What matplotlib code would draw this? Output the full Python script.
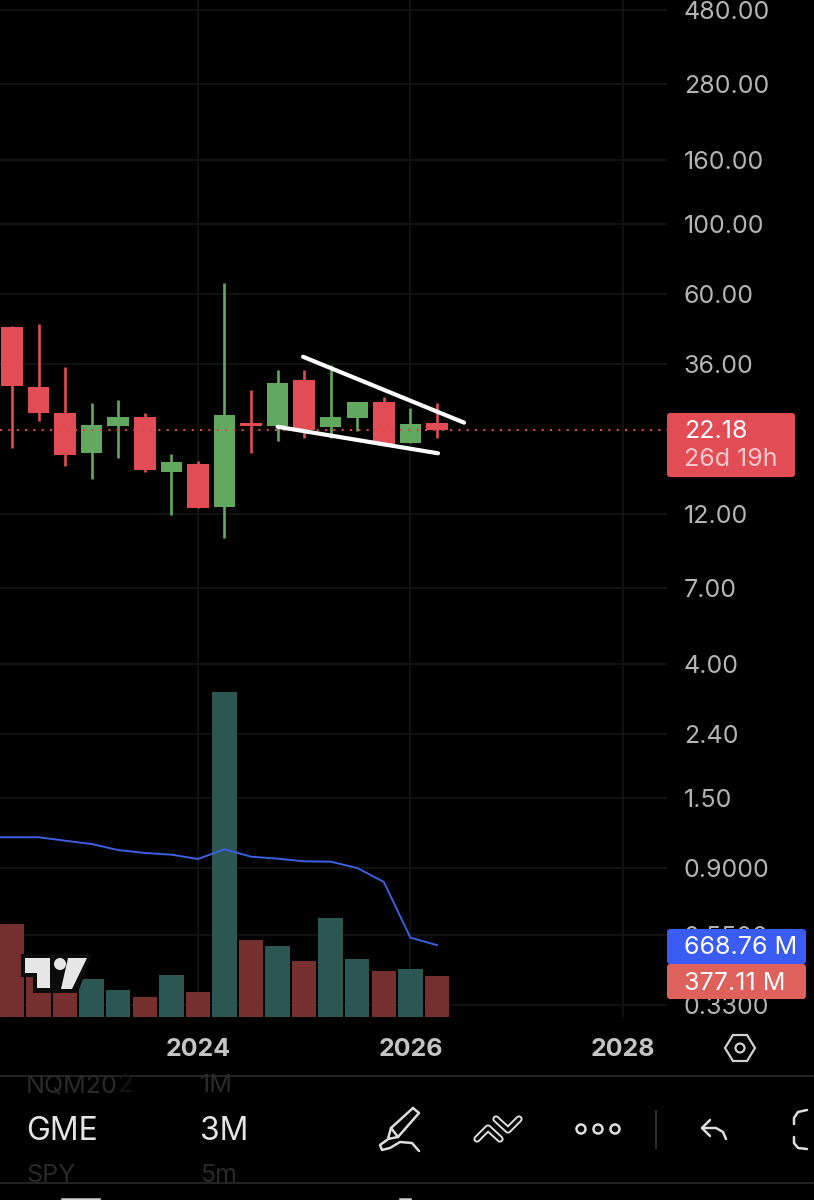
import matplotlib
matplotlib.use("Agg")
import matplotlib.pyplot as plt
from matplotlib.patches import FancyBboxPatch, Polygon, Circle

plt.rcParams['font.family'] = ['Inter', 'DejaVu Sans']

# quarterly candles, index 7 = 2024 Q1
quarters = list(range(17))
opens = [47.2, 30.4, 25.2, 18.7, 22.9, 24.4, 16.3, 17.3, 12.65, 23.4, 22.9, 32.05, 22.7, 24.15, 27.3, 20.2, 23.4]
closes = [30.6, 25.1, 18.5, 23.06, 24.4, 16.5, 17.6, 12.5, 24.75, 22.9, 31.35, 22.2, 24.45, 27.3, 20.0, 23.2, 22.18]
highs = [47.6, 48.2, 35.1, 27.0, 27.7, 25.2, 18.65, 17.7, 65.0, 29.8, 34.5, 34.5, 35.8, 27.3, 28.2, 26.0, 27.0]
lows = [19.5, 23.6, 17.0, 15.5, 18.1, 16.3, 11.9, 12.5, 10.04, 18.8, 20.4, 20.86, 20.9, 22.07, 20.0, 20.2, 20.9]

# volume in millions
volumes = [865, 391, 233, 356, 248, 186, 391, 230, 3023, 713, 660, 524, 924, 540, 428, 447, 377.11]
vol_ma_x = [-1, 0, 1, 2, 3, 4, 5, 6, 7, 8, 9, 10, 11, 12, 13, 14, 15, 16]
vol_ma = [1672, 1672, 1672, 1640, 1609, 1553, 1526, 1510, 1470, 1560, 1491, 1473, 1448, 1445, 1386, 1256, 738, 668.76]

price_ticks = [480, 280, 160, 100, 60, 36, 12, 7, 4, 2.4, 1.5, 0.9, 0.55, 0.33]
price_labels = ["480.00", "280.00", "160.00", "100.00", "60.00", "36.00", "12.00", "7.00", "4.00",
                "2.40", "1.50", "0.9000", "0.5500", "0.3300"]
year_ticks = [7, 15, 23]
year_labels = ["2024", "2026", "2028"]
last_price = 22.18

# hand drawn wedge
wedge_top_x = [10.96, 17.02]
wedge_top_y = [37.9, 23.4]
wedge_bot_x = [10.0, 16.04]
wedge_bot_y = [22.7, 18.7]

UP = "#62a85e"
DOWN = "#e24c55"
UP_VOL = "#2c5652"
DOWN_VOL = "#752f2e"
GRID = "#121212"
LABEL = "#b4b4b4"

fig = plt.figure(figsize=(8.14, 12), dpi=100, facecolor="black")
ax = fig.add_axes([0, 183 / 1200, 667 / 814, 1017 / 1200])
ax.set_facecolor("black")
ax.set_yscale("log")
ax.set_xlim(-0.45, 24.66)
ax.set_ylim(0.302, 516)
for s in ax.spines.values():
    s.set_visible(False)

# volume pane shares the bottom of the chart
ax_vol = ax.twinx()
ax_vol.set_ylim(0, 9460)
ax_vol.set_yticks([])
for s in ax_vol.spines.values():
    s.set_visible(False)
vol_colors = [UP_VOL if c >= o else DOWN_VOL for o, c in zip(opens, closes)]
ax_vol.bar(quarters, volumes, width=0.92, color=vol_colors, zorder=1)
ax_vol.plot(vol_ma_x, vol_ma, color="#3d5fe0", lw=1.4, zorder=2)

# candles go on a third layer so they sit over the volume axes
ax_c = ax.twinx()
ax_c.set_yscale("log")
ax_c.set_ylim(ax.get_ylim())
ax_c.set_yticks([])
ax_c.minorticks_off()
ax_c.tick_params(axis="y", which="both", length=0, labelright=False)
for s in ax_c.spines.values():
    s.set_visible(False)
colors = [UP if c >= o else DOWN for o, c in zip(opens, closes)]
ax_c.vlines(quarters, lows, highs, color=colors, lw=1.9, zorder=2)
ax_c.bar(quarters, [abs(c - o) for o, c in zip(opens, closes)], bottom=[min(o, c) for o, c in zip(opens, closes)],
         width=0.81, color=colors, zorder=3)
ax_c.axhline(last_price, color="#d8484f", lw=1.5, ls=(0, (1, 3)), zorder=4)
ax_c.plot(wedge_top_x, wedge_top_y, color="white", lw=3, solid_capstyle="round", zorder=5)
ax_c.plot(wedge_bot_x, wedge_bot_y, color="white", lw=3, solid_capstyle="round", zorder=5)

# twinx moves the ticks to the left, so set them up after it
ax.set_yticks(price_ticks)
ax.set_yticklabels(price_labels)
ax.minorticks_off()
ax.yaxis.tick_right()
ax.tick_params(axis="y", length=0, pad=12, labelsize=18, labelcolor=LABEL, left=False, labelleft=False)
ax.set_xticks(year_ticks)
ax.set_xticklabels(year_labels, fontweight="bold")
ax.tick_params(axis="x", length=0, pad=15, labelsize=18, labelcolor="#c4c4c4")
ax.grid(True, color=GRID, lw=1.4)
ax.set_axisbelow(True)

# everything else (labels, logo, toolbar) in screen pixels
ui = fig.add_axes([0, 0, 1, 1])
ui.set_xlim(0, 814)
ui.set_ylim(1200, 0)
ui.axis("off")


def box(x0, y0, x1, y1, color):
    ui.add_patch(FancyBboxPatch((x0 + 3, y0 + 3), x1 - x0 - 6, y1 - y0 - 6,
                                boxstyle="round,pad=3", fc=color, ec="none"))


box(667, 413, 795, 477, "#e24c55")
ui.text(684, 431, "22.18", color="white", fontsize=18, va="center")
ui.text(684, 460, "26d 19h", color="#f6c9cc", fontsize=18, va="center")
box(667, 929, 806, 964, "#3a5cf2")
box(667, 964, 806, 999, "#df615c")
ui.text(684, 947, "668.76 M", color="white", fontsize=18, va="center")
ui.text(684, 983, "377.11 M", color="white", fontsize=18, va="center")

# tradingview logo
ui.add_patch(Polygon([(21, 954), (92, 954), (78, 993), (33, 993), (33, 977), (21, 977)], fc="#0c0c0c", ec="none"))
ui.add_patch(Polygon([(25, 958), (50, 958), (50, 988), (37, 988), (37, 973), (25, 973)], fc="#e6e6e6", ec="none"))
ui.add_patch(Polygon([(68, 958), (87, 958), (72, 989), (61, 989)], fc="#e6e6e6", ec="none"))
ui.add_patch(Circle((60, 964), 6, fc="#e6e6e6", ec="none"))

# settings hexagon
ui.add_patch(Polygon([(725, 1048), (733, 1035), (747, 1035), (755, 1048), (747, 1061), (733, 1061)],
                     fc="none", ec="#d0d0d0", lw=1.6))
ui.add_patch(Circle((740, 1048), 4.5, fc="none", ec="#d0d0d0", lw=1.6))

# toolbar
ui.plot([0, 814], [1076, 1076], color="#2a2a2a", lw=1.2)
ui.plot([0, 814], [1183, 1183], color="#2a2a2a", lw=1.2)
ui.text(26, 1086, "NQM20", color="#2a2a2a", fontsize=18, va="center")
ui.text(117, 1086, "2", color="#141414", fontsize=18, va="center")
ui.text(200, 1086, "1M", color="#2a2a2a", fontsize=18, va="center")
ui.text(26, 1175, "SPY", color="#2a2a2a", fontsize=18, va="center")
ui.text(200, 1175, "5m", color="#2a2a2a", fontsize=18, va="center")
ui.text(26, 1132, "GME", color="#e4e4e4", fontsize=23, va="center")
ui.text(200, 1132, "3M", color="#e4e4e4", fontsize=23, va="center")

icon = dict(color="#dedede", lw=1.8, solid_capstyle="round", solid_joinstyle="round")
# pencil
ui.plot([413, 419, 398, 388, 391, 413], [1108, 1113, 1137, 1139, 1128, 1108], **icon)
ui.plot([391, 398], [1128, 1137], **icon)
ui.plot([387, 380, 382, 390, 400, 412, 419], [1140, 1145, 1150, 1148, 1142, 1143, 1151], **icon)
# drawing tools chevrons
for xs, ys in [([477, 488, 500], [1139, 1128, 1139]), ([496, 508, 519], [1119, 1130, 1119])]:
    ui.plot(xs, ys, color="#dedede", lw=5.2, solid_capstyle="round", solid_joinstyle="round")
    ui.plot(xs, ys, color="black", lw=2.4, solid_capstyle="round", solid_joinstyle="round")
for cx in [581, 598, 615]:
    ui.add_patch(Circle((cx, 1129), 4.5, fc="none", ec="#dedede", lw=1.8))
ui.plot([656, 656], [1111, 1148], color="#3a3a3a", lw=1.2)
# undo
ui.plot([710, 702, 710], [1120, 1128, 1136], **icon)
ui.plot([702, 716, 723, 726], [1128, 1128, 1132, 1139], **icon)
# fullscreen bracket
ui.plot([807, 798, 794, 794], [1110, 1112, 1118, 1124], **icon)
ui.plot([794, 794, 798, 807], [1137, 1143, 1148, 1149], **icon)
# next toolbar row peeking in at the bottom edge
ui.plot([62, 99], [1199, 1199], color="#cfcfcf", lw=1.8)
ui.plot([400, 410], [1199, 1199], color="#cfcfcf", lw=1.8)

fig.savefig("out.png", dpi=100, facecolor="black")
